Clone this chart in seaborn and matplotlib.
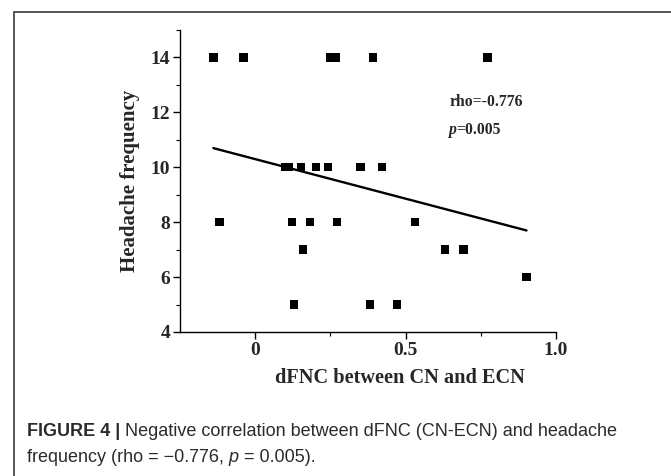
import numpy as np
import pandas as pd
import matplotlib
matplotlib.use("Agg")
import matplotlib.pyplot as plt
from matplotlib.lines import Line2D
from matplotlib.ticker import MultipleLocator, FixedLocator
import seaborn as sns

# ---- data ----
dfnc = [-0.139, -0.039, 0.250, 0.267, 0.392, 0.772,
        0.100, 0.111, 0.152, 0.202, 0.241, 0.350, 0.422,
        -0.119, 0.122, 0.182, 0.272, 0.531,
        0.160, 0.631, 0.692,
        0.902,
        0.130, 0.381, 0.472]
headache = [14, 14, 14, 14, 14, 14,
            10, 10, 10, 10, 10, 10, 10,
            8, 8, 8, 8, 8,
            7, 7, 7,
            6,
            5, 5, 5]
x_ticks = [0, 0.5, 1.0]
x_tick_labels = ["0", "0.5", "1.0"]
y_ticks = [4, 6, 8, 10, 12, 14]
rho_text = "rho=-0.776"
p_text = "=0.005"

df = pd.DataFrame({"x": dfnc, "y": headache})

sns.set_style("ticks")
plt.rcParams["font.family"] = ["Liberation Serif", "DejaVu Serif"]

W, H = 671, 476
fig = plt.figure(figsize=(W / 100, H / 100), dpi=100)
ax = fig.add_axes([180 / W, 1 - 332 / H, (556 - 180) / W, (332 - 30) / H])

sns.scatterplot(data=df, x="x", y="y", ax=ax, marker="s", s=36,
                color="black", edgecolor="none", linewidth=0)
sns.regplot(data=df, x="x", y="y", ax=ax, scatter=False, ci=None,
            color="black", line_kws={"linewidth": 1.7})

ax.set_xlim(-0.25, 1.0)
ax.set_ylim(4, 15)
ax.xaxis.set_major_locator(FixedLocator(x_ticks))
ax.set_xticklabels(x_tick_labels)
ax.xaxis.set_minor_locator(FixedLocator([0.25, 0.75]))
ax.yaxis.set_major_locator(FixedLocator(y_ticks))
ax.yaxis.set_minor_locator(MultipleLocator(1))

for side in ["top", "right"]:
    ax.spines[side].set_visible(False)
for side in ["left", "bottom"]:
    ax.spines[side].set_color("black")
    ax.spines[side].set_linewidth(1.0)

ax.tick_params(axis="both", which="major", direction="out", length=5, width=1,
               color="black", labelsize=14, pad=2)
ax.tick_params(axis="both", which="minor", direction="out", length=3, width=0.8,
               color="black")
for lab in ax.get_xticklabels() + ax.get_yticklabels():
    lab.set_fontweight("bold")

ax.set_xlabel("dFNC between CN and ECN", fontsize=14.6, fontweight="bold", labelpad=8)
ax.xaxis.set_label_coords((400 - 180) / (556 - 180), -0.12)
ax.xaxis.label.set_va("center")
ax.xaxis.set_label_coords((400 - 180) / (556 - 180), -(378 - 332) / (332 - 30))
ax.set_ylabel("Headache frequency", fontsize=15, fontweight="bold", labelpad=8)

ax.text(450 / W, 1 - 101.7 / H, rho_text, transform=fig.transFigure,
        fontsize=11.3, fontweight="bold", va="center", ha="left")
tp = ax.text(448 / W, 1 - 130 / H, "p", transform=fig.transFigure,
             fontsize=11.3, fontweight="bold", fontstyle="italic",
             va="center", ha="left")
ax.annotate(p_text, xy=(1, 0.5), xycoords=tp, va="center", ha="left",
            fontsize=11.3, fontweight="bold")

# frame around figure panel
fc = "#555555"
fig.add_artist(Line2D([14 / W, 14 / W], [0, 1 - 12 / H], transform=fig.transFigure,
                      color=fc, linewidth=1.4))
fig.add_artist(Line2D([14 / W, 1.0], [1 - 12 / H, 1 - 12 / H], transform=fig.transFigure,
                      color=fc, linewidth=1.4))

# caption
cap_font = ["Liberation Sans", "DejaVu Sans"]
cs = 13.0
cc = "#2b2b2b"
c1 = fig.text(27 / W, 1 - 432 / H, "FIGURE 4 |", fontsize=cs, fontweight="bold",
              family=cap_font, color=cc, va="center", ha="left")
ax.annotate(" Negative correlation between dFNC (CN-ECN) and headache",
            xy=(1, 0.5), xycoords=c1, va="center", ha="left",
            fontsize=cs, family=cap_font, color=cc,
            annotation_clip=False)
c2 = fig.text(27 / W, 1 - 458 / H, "frequency (rho = \u22120.776, ", fontsize=cs,
              family=cap_font, color=cc, va="center", ha="left")
c3 = ax.annotate("p", xy=(1, 0.5), xycoords=c2, va="center", ha="left",
                 fontsize=cs, family=cap_font, fontstyle="italic", color=cc,
                 annotation_clip=False)
ax.annotate(" = 0.005).", xy=(1, 0.5), xycoords=c3, va="center", ha="left",
            fontsize=cs, family=cap_font, color=cc, annotation_clip=False)

fig.savefig("out.png", dpi=100, facecolor="white")
